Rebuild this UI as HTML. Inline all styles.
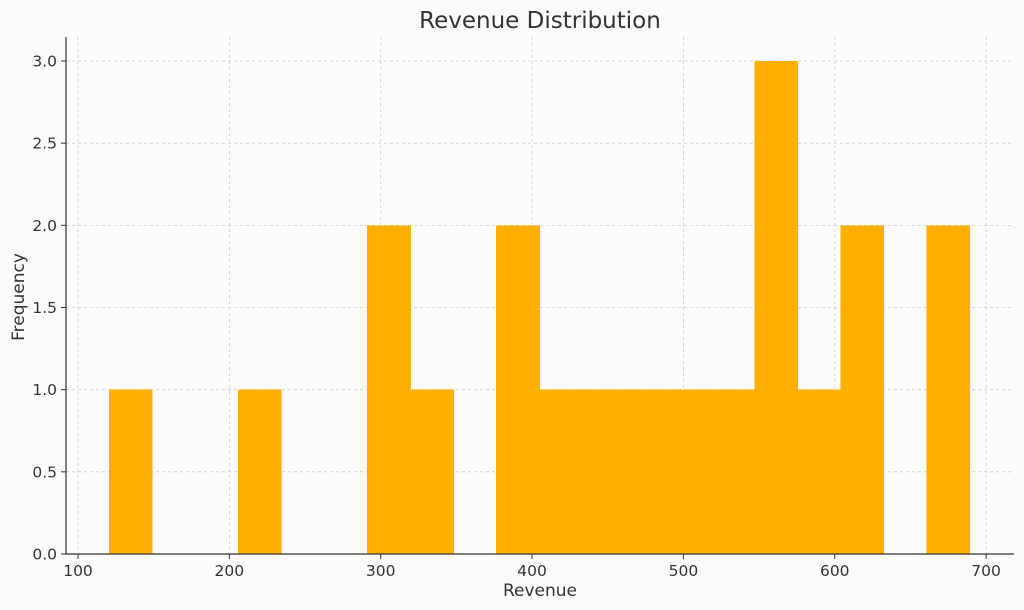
<!DOCTYPE html>
<html><head><meta charset="utf-8"><style>
body{margin:0;background:#fcfcfc;}
svg{display:block;font-family:"DejaVu Sans","Liberation Sans",sans-serif;}
</style></head><body>
<svg id="chart" width="1024" height="610"></svg>
<script>
const binStart = 120.5;
const binEnd = 689;
const counts = [1,0,0,1,0,0,2,1,0,2,1,1,1,1,1,3,1,2,0,2];
const xTicks = [100,200,300,400,500,600,700];
const yTicks = [0,0.5,1,1.5,2,2.5,3];
const yTickLabels = ["0.0","0.5","1.0","1.5","2.0","2.5","3.0"];

const NS="http://www.w3.org/2000/svg";
const svg=document.getElementById('chart');
const X=v=>78+(v-100)*1.5135;
const Y=v=>554-v*164.33;
function mk(t,a,p){const e=document.createElementNS(NS,t);for(const k in a)e.setAttribute(k,a[k]);(p||svg).appendChild(e);return e;}

const grid=mk('g',{});


xTicks.forEach(v=>{const l=mk('line',{x1:X(v),x2:X(v),y1:37,y2:554,stroke:'#cccccc','stroke-dasharray':'3,3','stroke-width':0.8},grid);

});
yTicks.forEach(v=>{const l=mk('line',{x1:66,x2:1014,y1:Y(v),y2:Y(v),stroke:'#cccccc','stroke-dasharray':'3,3','stroke-width':0.8},grid);

});

const w=(binEnd-binStart)/counts.length;
counts.forEach((c,i)=>{if(!c)return;
const x0=X(binStart+i*w), x1=X(binStart+(i+1)*w);
const r=mk('rect',{x:x0,y:Y(c),width:x1-x0+0.6,height:Y(0)-Y(c),fill:'#ffb000','shape-rendering':'crispEdges'});

});

const ax=mk('path',{d:'M66,37 V554 H1014',fill:'none',stroke:'#333',"stroke-width":1.2});



xTicks.forEach(v=>{mk('line',{x1:X(v),x2:X(v),y1:554,y2:559,stroke:'#333'});
const t=mk('text',{x:X(v),y:576,'text-anchor':'middle','font-size':15.5,fill:'#333'});t.textContent=v;

});
yTicks.forEach((v,i)=>{mk('line',{x1:61,x2:66,y1:Y(v),y2:Y(v),stroke:'#333'});
const t=mk('text',{x:57,y:Y(v)+5.5,'text-anchor':'end','font-size':15.5,fill:'#333'});t.textContent=yTickLabels[i];

});

let t=mk('text',{x:540,y:28,'text-anchor':'middle','font-size':23,fill:'#333'});t.textContent='Revenue Distribution';


t=mk('text',{x:540,y:596,'text-anchor':'middle','font-size':17,fill:'#333'});t.textContent='Revenue';


t=mk('text',{x:24,y:297,'text-anchor':'middle','font-size':17,fill:'#333',transform:'rotate(-90 24 297)'});t.textContent='Frequency';


</script>
</body></html>
